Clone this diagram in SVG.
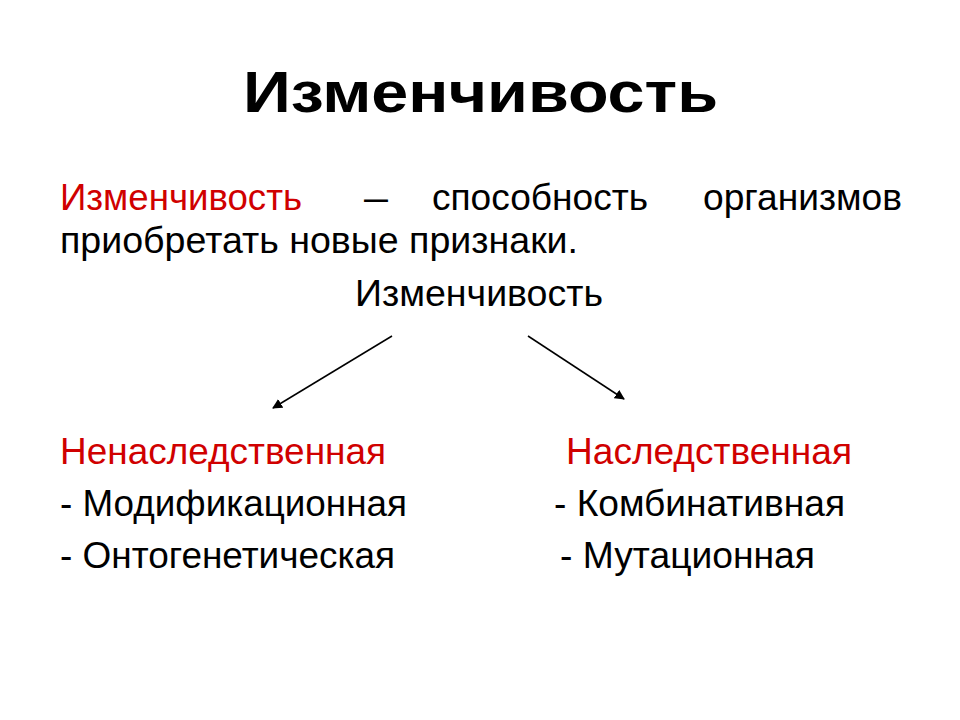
<svg xmlns="http://www.w3.org/2000/svg" width="960" height="720" viewBox="0 0 960 720">
<style>
text{font-family:"Liberation Sans",Arial,sans-serif;font-size:36px;fill:#000}
.red{fill:#d00000}
.title{font-weight:bold;font-size:58px}
.conn line{stroke:#000;stroke-width:1.5}
</style>
<defs>
<marker id="ah" viewBox="0 0 10 10" refX="9" refY="5" markerWidth="10" markerHeight="10" markerUnits="userSpaceOnUse" orient="auto">
<path d="M0,0 L10,5 L0,10 z" fill="#000"/>
</marker>
</defs>
<rect width="960" height="720" fill="#fff"/>
<g id="title"><text class="title" x="243" y="112" textLength="475" lengthAdjust="spacingAndGlyphs">Изменчивость</text></g>
<g id="definition">
<text class="red" x="60" y="210" textLength="242" lengthAdjust="spacingAndGlyphs">Изменчивость</text>
<text x="364" y="210" textLength="24" lengthAdjust="spacingAndGlyphs">–</text>
<text x="432" y="210" textLength="216" lengthAdjust="spacingAndGlyphs">способность</text>
<text x="703" y="210" textLength="199" lengthAdjust="spacingAndGlyphs">организмов</text>
<text x="60" y="253" textLength="518" lengthAdjust="spacingAndGlyphs">приобретать новые признаки.</text>
</g>
<g id="root"><text x="355" y="306" textLength="248" lengthAdjust="spacingAndGlyphs">Изменчивость</text></g>
<g class="conn" id="connectors">
<line x1="392" y1="336" x2="273" y2="408" marker-end="url(#ah)"/>
<line x1="528" y1="336" x2="624" y2="399" marker-end="url(#ah)"/>
</g>
<g id="nonhereditary">
<text class="red" x="60" y="464" textLength="326" lengthAdjust="spacingAndGlyphs">Ненаследственная</text>
<text x="60" y="516" textLength="347" lengthAdjust="spacingAndGlyphs">- Модификационная</text>
<text x="60" y="568" textLength="335" lengthAdjust="spacingAndGlyphs">- Онтогенетическая</text>
</g>
<g id="hereditary">
<text class="red" x="566" y="464" textLength="286" lengthAdjust="spacingAndGlyphs">Наследственная</text>
<text x="554" y="516" textLength="291" lengthAdjust="spacingAndGlyphs">- Комбинативная</text>
<text x="560" y="568" textLength="255" lengthAdjust="spacingAndGlyphs">- Мутационная</text>
</g>
</svg>
